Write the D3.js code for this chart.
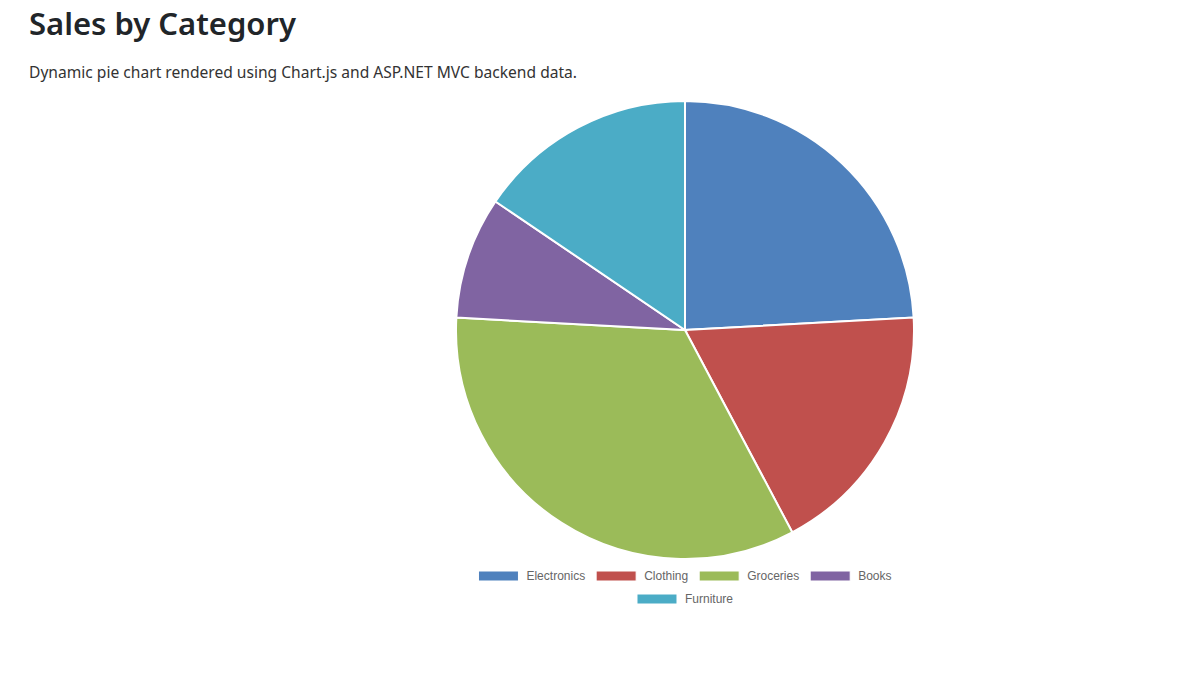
<!DOCTYPE html>
<html>
<head>
<meta charset="utf-8">
<script src="https://cdn.jsdelivr.net/npm/d3@7"></script>
<style>
  body { margin: 0; background: #fff; font-family: "Segoe UI", "Noto Sans", "Open Sans", sans-serif; }
  svg { display: block; }
</style>
</head>
<body>
<svg id="chart" width="1200" height="686"></svg>
<script>
// Sales by Category (pie)
const categories = ["Electronics", "Clothing", "Groceries", "Books", "Furniture"];
const sales = [2800, 2100, 3900, 1000, 1800];
const colors = ["#4F81BD", "#C0504D", "#9BBB59", "#8064A2", "#4BACC6"];

const svg = d3.select("#chart");

svg.append("text")
  .attr("x", 29).attr("y", 35)
  .attr("fill", "#212529")
  .style("font-size", "31px")
  .style("font-weight", 600)
  .text("Sales by Category");

svg.append("text")
  .attr("x", 29).attr("y", 78)
  .attr("fill", "#333")
  .style("font-size", "15.6px")
  .text("Dynamic pie chart rendered using Chart.js and ASP.NET MVC backend data.");

const cx = 685, cy = 330, r = 229;
const data = categories.map((c, i) => ({ name: c, value: sales[i], color: colors[i] }));

const pie = d3.pie().sort(null).value(d => d.value);
const arc = d3.arc().innerRadius(0).outerRadius(r);

svg.append("g")
  .attr("transform", `translate(${cx},${cy})`)
  .selectAll("path")
  .data(pie(data))
  .join("path")
  .attr("d", arc)
  .attr("fill", d => d.data.color)
  .attr("stroke", "#fff")
  .attr("stroke-width", 2);

// legend, laid out in centered rows like Chart.js
const boxW = 40, fs = 12, textOff = 8, gap = 11, maxW = 440;
const legend = svg.append("g")
  .style("font-family", "Arial, 'Liberation Sans', sans-serif")
  .style("font-size", fs + "px");

const tmp = legend.append("text").attr("visibility", "hidden");
const items = data.map(d => {
  tmp.text(d.name);
  return { ...d, w: boxW + textOff + tmp.node().getComputedTextLength() };
});
tmp.remove();

const rows = [[]];
let rowW = 0;
for (const it of items) {
  if (rowW + it.w + gap > maxW && rows[rows.length - 1].length) { rows.push([]); rowW = 0; }
  rows[rows.length - 1].push(it);
  rowW += it.w + gap;
}

rows.forEach((row, ri) => {
  const total = d3.sum(row, d => d.w) + gap * (row.length - 1);
  let x = cx - total / 2;
  const y = 576 + ri * 23;
  for (const it of row) {
    const g = legend.append("g").attr("transform", `translate(${x},${y})`);
    g.append("rect")
      .attr("x", 0).attr("y", -5).attr("width", boxW).attr("height", 10)
      .attr("fill", it.color)
      .attr("stroke", "#fff").attr("stroke-width", 1);
    g.append("text")
      .attr("x", boxW + textOff).attr("dy", "0.35em")
      .attr("fill", "#666")
      .text(it.name);
    x += it.w + gap;
  }
});
</script>
</body>
</html>
